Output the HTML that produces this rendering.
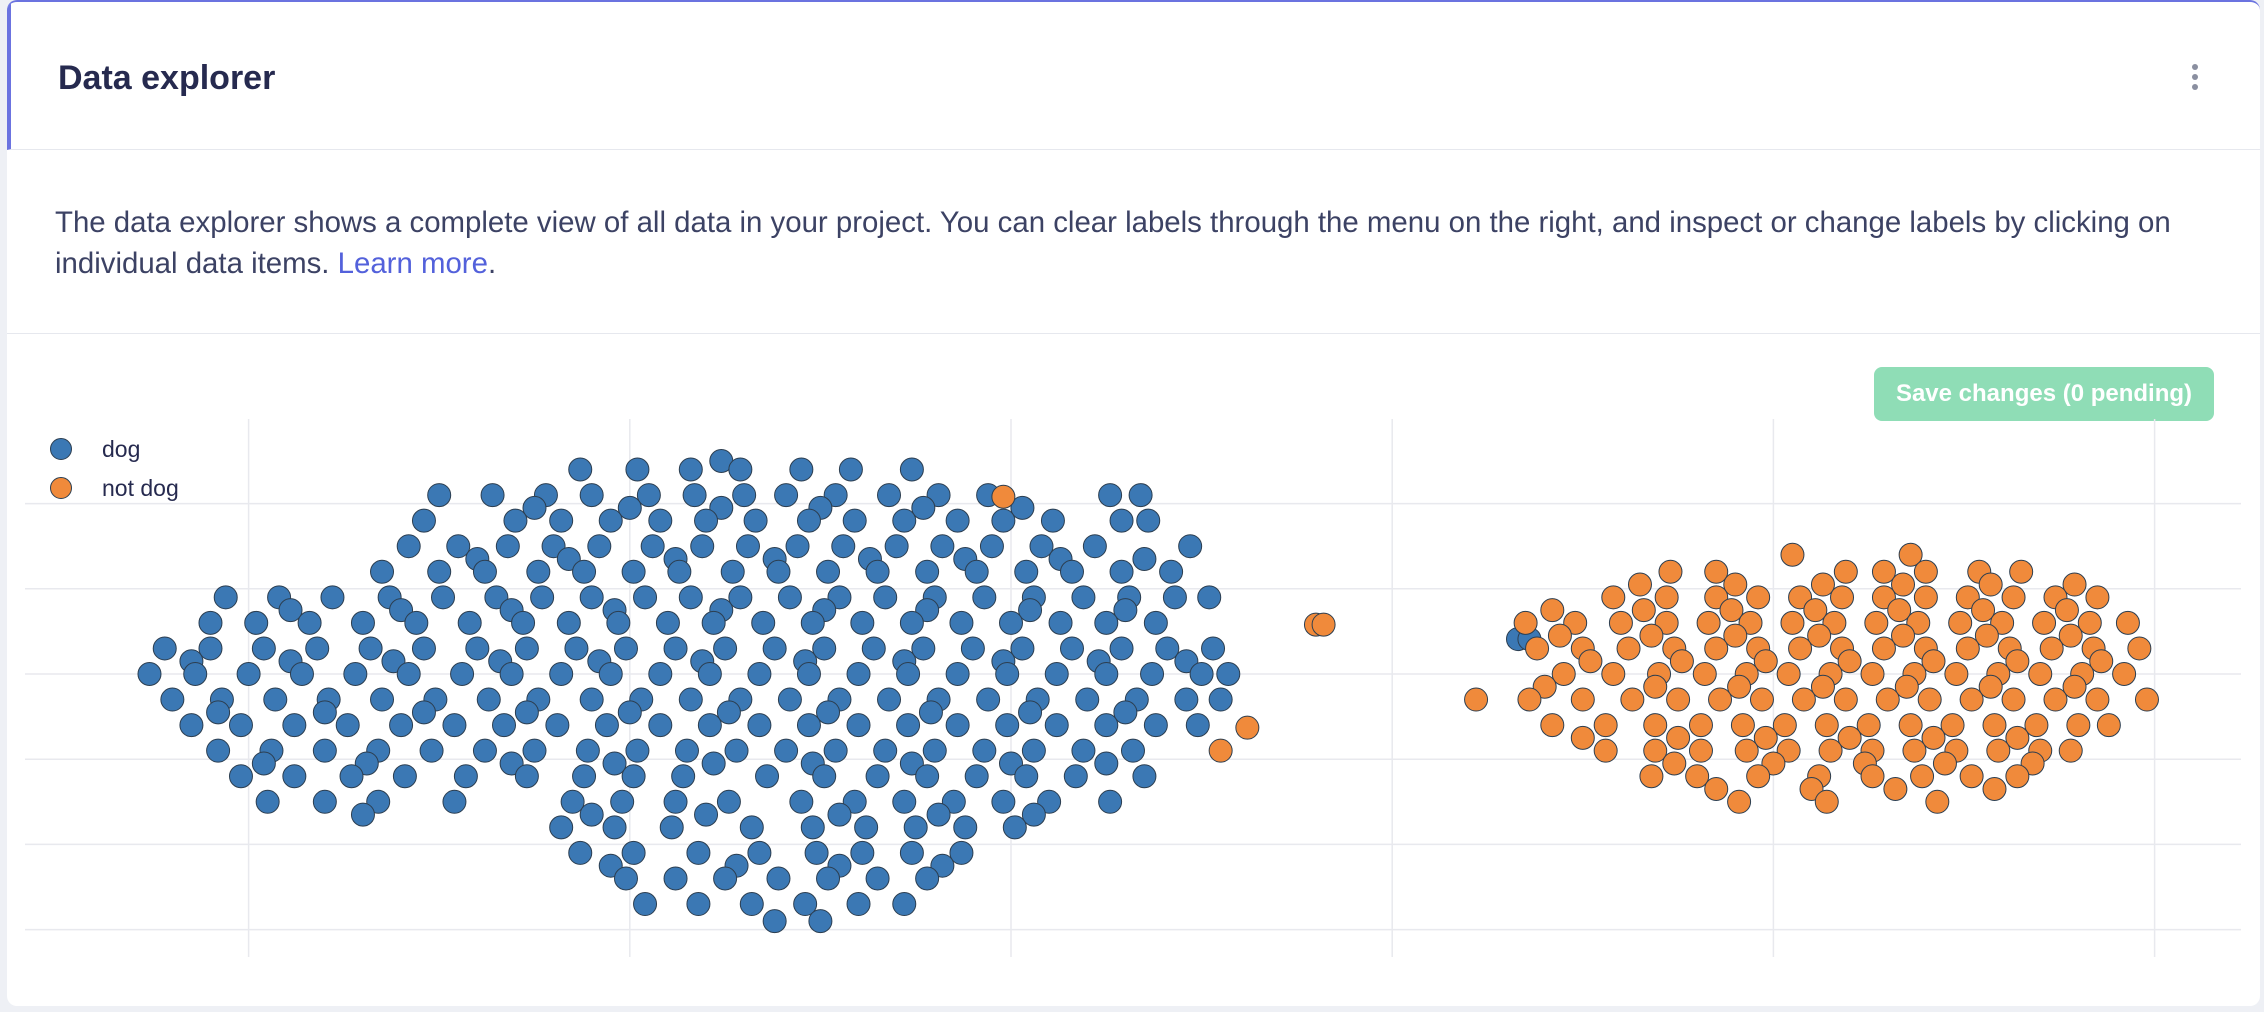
<!DOCTYPE html>
<html><head><meta charset="utf-8"><style>
html,body{margin:0;padding:0;width:2264px;height:1012px;background:#eef0f5;overflow:hidden;font-family:"Liberation Sans",sans-serif}
#card{position:absolute;left:7px;top:0;width:2253px;height:1006px;background:#fff;border-radius:10px;border-top:2px solid #6b73e0;box-sizing:border-box;overflow:hidden}
#hdr{position:absolute;left:0;top:0;width:100%;height:148px;border-bottom:1px solid #e6e8ee;border-left:4px solid #6b73e0;box-sizing:border-box}
#title{position:absolute;left:47px;top:57px;font-size:34px;font-weight:bold;color:#262a4f}
#menu{position:absolute;right:62px;top:62px;width:6px}
#menu span{display:block;width:6px;height:6px;border-radius:3px;background:#8a8fa0;margin-bottom:4px}
#desc{position:absolute;left:48px;top:200px;width:2190px;font-size:29.4px;line-height:41px;color:#3c4264}
#desc a{color:#5361db;text-decoration:none}
#sep{position:absolute;left:0;top:331px;width:100%;height:1px;background:#e6e8ee}
#save{position:absolute;left:1867px;top:365px;width:340px;height:54px;border-radius:8px;background:#8fddb6;color:#fff;font-weight:bold;font-size:24px;line-height:54px;text-align:center}
svg{position:absolute;left:0;top:0}
</style></head><body>
<div id="card">
<div id="hdr">
<div id="title">Data explorer</div>
<div id="menu"><span></span><span></span><span></span></div>
</div>
<div id="desc">The data explorer shows a complete view of all data in your project. You can clear labels through the menu on the right, and inspect or change labels by clicking on individual data items. <a>Learn more</a>.</div>
<div id="sep"></div>
<div id="save">Save changes (0 pending)</div>
</div>
<svg id="chart" width="2264" height="1012"></svg>
<script>
const xTicks=[-20,-10,0,10,20,30];
const yTicks=[20,10,0,-10,-20,-30];
const seriesNames=["dog","not dog"];
const seriesColors=["#3b78b4","#f08a3b"];
const dogRows=[
[25,[-7.6]],
[24,[-11.3,-9.8,-8.4,-7.1,-5.5,-4.2,-2.6]],
[21,[-15,-13.6,-12.2,-11,-9.5,-8.3,-7,-5.9,-4.6,-3.2,-1.9,-0.6,2.6,3.4]],
[19.5,[-12.5,-10,-7.6,-5,-2.3,0.3]],
[18,[-15.4,-13,-11.8,-10.5,-9.2,-8,-6.7,-5.3,-4.1,-2.8,-1.4,-0.2,1.1,2.9,3.6]],
[15,[-15.8,-14.5,-13.2,-12,-10.8,-9.4,-8.1,-6.9,-5.6,-4.4,-3,-1.8,-0.5,0.8,2.2,4.7]],
[13.5,[-14,-11.6,-8.8,-6.2,-3.7,-1.2,1.3,3.5]],
[12,[-16.5,-15,-13.8,-12.4,-11.2,-9.9,-8.7,-7.3,-6.1,-4.8,-3.5,-2.2,-0.9,0.4,1.6,2.9,4.2]],
[9,[-20.6,-19.2,-17.8,-16.3,-14.9,-13.5,-12.3,-11,-9.6,-8.4,-7.1,-5.8,-4.5,-3.3,-2,-0.7,0.6,1.9,3.1,4.3,5.2]],
[7.5,[-18.9,-16,-13.1,-10.4,-7.6,-4.9,-2.2,0.5,3]],
[6,[-21,-19.8,-18.4,-17,-15.6,-14.2,-12.8,-11.6,-10.3,-9,-7.8,-6.5,-5.2,-3.9,-2.6,-1.3,0,1.3,2.5,3.8]],
[3,[-22.2,-21,-19.6,-18.2,-16.8,-15.4,-14,-12.7,-11.4,-10.1,-8.8,-7.5,-6.2,-4.9,-3.6,-2.3,-1,0.3,1.6,2.9,4.1,5.3]],
[1.5,[-21.5,-18.9,-16.2,-13.4,-10.8,-8.1,-5.4,-2.8,-0.2,2.3,4.6]],
[0,[-22.6,-21.4,-20,-18.6,-17.2,-15.8,-14.4,-13.1,-11.8,-10.5,-9.2,-7.9,-6.6,-5.3,-4,-2.7,-1.4,-0.1,1.2,2.5,3.7,5,5.7]],
[-3,[-22,-20.7,-19.3,-17.9,-16.5,-15.1,-13.7,-12.4,-11,-9.7,-8.4,-7.1,-5.8,-4.5,-3.2,-1.9,-0.6,0.7,2,3.3,4.6,5.5]],
[-4.5,[-20.8,-18,-15.4,-12.7,-10,-7.4,-4.8,-2.1,0.5,3]],
[-6,[-21.5,-20.2,-18.8,-17.4,-16,-14.6,-13.3,-11.9,-10.6,-9.2,-7.9,-6.6,-5.3,-4,-2.7,-1.4,-0.1,1.2,2.5,3.8,4.9]],
[-9,[-20.8,-19.4,-18,-16.6,-15.2,-13.8,-12.5,-11.1,-9.8,-8.5,-7.2,-5.9,-4.6,-3.3,-2,-0.7,0.6,1.9,3.2]],
[-10.5,[-19.6,-16.9,-13.1,-10.4,-7.8,-5.2,-2.6,0,2.5]],
[-12,[-20.2,-18.8,-17.3,-15.9,-14.3,-12.7,-11.2,-9.9,-8.6,-6.4,-4.9,-3.5,-2.2,-0.9,0.4,1.7,3.5]],
[-15,[-19.5,-18,-16.6,-14.6,-11.5,-10.2,-8.8,-7.4,-5.5,-4.1,-2.8,-1.5,-0.2,1,2.6]],
[-16.5,[-17,-11,-8,-4.5,-1.9,0.6]],
[-18,[-11.8,-10.4,-8.9,-6.8,-5.2,-3.8,-2.5,-1.2,0.1]],
[-21,[-11.3,-9.9,-8.2,-6.6,-5.1,-3.9,-2.6,-1.3]],
[-22.5,[-10.5,-7.2,-4.5,-1.8]],
[-24,[-10.1,-8.8,-7.5,-6.1,-4.8,-3.5,-2.2]],
[-27,[-9.6,-8.2,-6.8,-5.4,-4,-2.8]],
[-29,[-6.2,-5]],
[4.1,[13.3,13.6]]
];
const notDogRows=[
[20.8,[-0.2]],
[5.8,[8,8.2]],
[-6.3,[6.2]],
[-9,[5.5]],
[14,[20.5,23.6]],
[12,[17.3,18.5,21.9,22.9,24,25.4,26.5]],
[10.5,[16.5,19,21.3,23.4,25.7,27.9]],
[9,[15.8,17.2,18.5,19.6,20.7,21.8,22.9,24,25.1,26.3,27.4,28.5]],
[7.5,[14.2,16.6,18.9,21.1,23.3,25.5,27.7]],
[6,[13.5,14.8,16,17.2,18.3,19.4,20.5,21.6,22.7,23.8,24.9,26,27.1,28.3,29.3]],
[4.5,[14.4,16.8,19,21.2,23.4,25.6,27.8]],
[3,[13.8,15,16.2,17.4,18.5,19.6,20.7,21.8,22.9,24,25.1,26.2,27.3,28.4,29.6]],
[1.5,[15.2,17.6,19.8,22,24.2,26.4,28.6]],
[0,[14.5,15.8,17,18.2,19.3,20.4,21.5,22.6,23.7,24.8,25.9,27,28.1,29.2]],
[-1.5,[14,16.9,19.1,21.3,23.5,25.7,27.9]],
[-3,[12.2,13.6,15,16.3,17.5,18.6,19.7,20.8,21.9,23,24.1,25.2,26.3,27.4,28.5,29.8]],
[-6,[14.2,15.6,16.9,18.1,19.2,20.3,21.4,22.5,23.6,24.7,25.8,26.9,28,28.8]],
[-7.5,[15,17.5,19.8,22,24.2,26.4]],
[-9,[15.6,16.9,18.1,19.3,20.4,21.5,22.6,23.7,24.8,25.9,27,27.8]],
[-10.5,[17.4,20,22.4,24.5,26.8]],
[-12,[16.8,18,19.6,21.2,22.6,23.9,25.2,26.4]],
[-13.5,[18.5,21,23.2,25.8]],
[-15,[19.1,21.4,24.3]]
];
const NS="http://www.w3.org/2000/svg";
const svg=document.getElementById('chart');
const X=v=>1011+v*38.12;
const Y=v=>674-v*8.52;
function mk(t,a){const e=document.createElementNS(NS,t);for(const k in a)e.setAttribute(k,a[k]);svg.appendChild(e);return e;}
xTicks.forEach(t=>{const l=mk('line',{x1:X(t),x2:X(t),y1:419,y2:957,stroke:'#e8e9ee','stroke-width':1.5});

});
yTicks.forEach(t=>{const l=mk('line',{x1:25,x2:2241,y1:Y(t),y2:Y(t),stroke:'#e8e9ee','stroke-width':1.5});

});
[dogRows,notDogRows].forEach((rows,si)=>{rows.forEach(r=>{r[1].forEach(x=>{
const c=mk('circle',{cx:X(x),cy:Y(r[0]),r:11.5,fill:seriesColors[si],stroke:'#2c3e50','stroke-width':1});

});});});
seriesNames.forEach((n,i)=>{
const c=mk('circle',{cx:61,cy:449+i*39,r:10.5,fill:seriesColors[i],stroke:'#2c3e50','stroke-width':1});


const t=mk('text',{x:102,y:457+i*39,'font-size':23,fill:'#262a4f','font-family':'Liberation Sans, sans-serif'});
t.textContent=n;

});
</script>
</body></html>
